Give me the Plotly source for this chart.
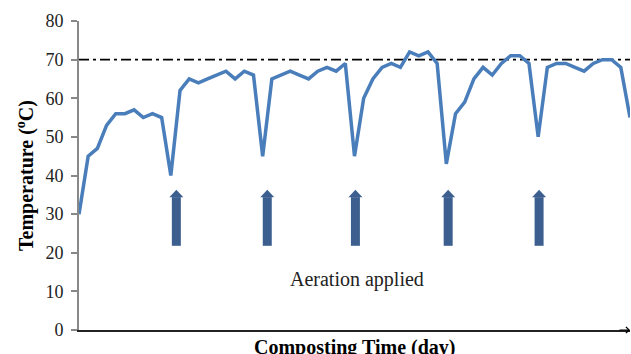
import plotly.graph_objects as go

days = list(range(61))
temperature = [30, 45, 47, 53, 56, 56, 57, 55, 56, 55,
               40, 62, 65, 64, 65, 66, 67, 65, 67, 66,
               45, 65, 66, 67, 66, 65, 67, 68, 67, 69,
               45, 60, 65, 68, 69, 68, 72, 71, 72, 69,
               43, 56, 59, 65, 68, 66, 69, 71, 71, 69,
               50, 68, 69, 69, 68, 67, 69, 70, 70, 68,
               55]
threshold = 70
aeration_days = [10.6, 20.5, 30.1, 40.2, 50.1]
arrow_bottom, arrow_neck, arrow_top = 21.8, 34.4, 36.3
y_ticks = [0, 10, 20, 30, 40, 50, 60, 70, 80]

serif = "Liberation Serif, Times New Roman, serif"
arrow_color = "#3c5f8f"

fig = go.Figure()
fig.add_trace(go.Scatter(x=days, y=temperature, mode="lines",
                         line=dict(color="#4a7ebb", width=3.5), hoverinfo="skip"))

shapes = [dict(type="line", xref="x", yref="y", x0=days[0], x1=days[-1], y0=threshold, y1=threshold,
               line=dict(color="black", width=1.6, dash="10px,4px,3px,4px"), layer="below")]
for d in aeration_days:
    shapes.append(dict(type="rect", xref="x", yref="y", xsizemode="pixel", xanchor=d,
                       x0=-4.5, x1=4.5, y0=arrow_bottom, y1=arrow_neck,
                       fillcolor=arrow_color, line=dict(width=0)))
    shapes.append(dict(type="path", xref="x", yref="y", xsizemode="pixel", xanchor=d,
                       path=f"M-7,{arrow_neck} L7,{arrow_neck} L0,{arrow_top} Z",
                       fillcolor=arrow_color, line=dict(width=0)))

annotations = [
    dict(x=30.3, y=13.2, xref="x", yref="y", text="Aeration applied", showarrow=False,
         font=dict(family=serif, size=20, color="#222")),
    dict(x=0.5, y=0, xref="paper", yref="paper", yshift=-17, text="<b>Composting Time (day)</b>",
         showarrow=False, yanchor="middle", font=dict(family=serif, size=20, color="black")),
    dict(x=1, y=0, xref="paper", yref="paper", ax=-12, ay=0, text="", showarrow=True,
         arrowhead=4, arrowsize=1, arrowwidth=1.2, arrowcolor="black"),
]

fig.update_layout(
    width=631, height=354,
    margin=dict(l=79, r=1, t=21, b=24, autoexpand=False),
    paper_bgcolor="white", plot_bgcolor="white",
    showlegend=False,
    shapes=shapes, annotations=annotations,
    xaxis=dict(range=[0, 60], showticklabels=False, ticks="", showgrid=False, zeroline=False,
               showline=True, linecolor="#222", linewidth=1.5),
    yaxis=dict(range=[0, 80], tickvals=y_ticks, ticks="outside", ticklen=6, tickcolor="#888",
               tickwidth=1.5, showgrid=False, zeroline=False, showline=True, linecolor="#888",
               linewidth=2, ticklabelstandoff=4, automargin=False,
               tickfont=dict(family=serif, size=18, color="#222"),
               title=dict(text="<b>Temperature (<sup>o</sup>C)</b>", standoff=6,
                          font=dict(family=serif, size=20, color="black"))),
)

fig.write_html("out.html", config={"displayModeBar": False},
               post_script="document.body.style.margin='0';")
